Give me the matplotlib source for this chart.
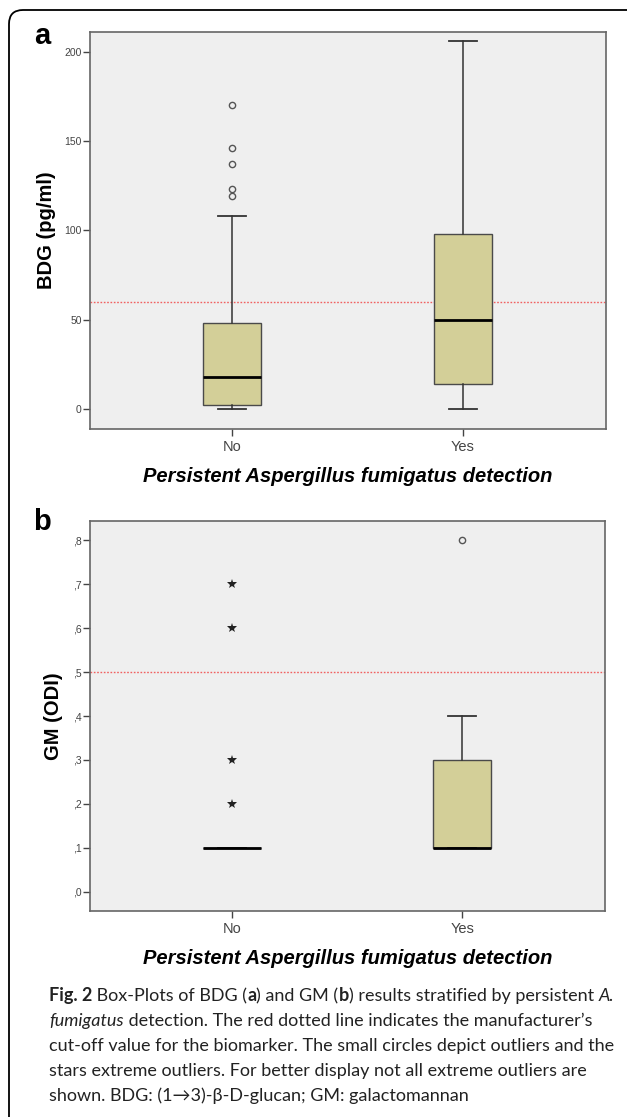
import numpy as np
import matplotlib
matplotlib.use("Agg")
import matplotlib.pyplot as plt
from matplotlib.patches import FancyBboxPatch
from matplotlib.ticker import FuncFormatter

# ------------------------------------------------------------
#  data
# ------------------------------------------------------------
categories = ["No", "Yes"]

# panel a: BDG (pg/ml)
bdg_whislo = [0, 0]
bdg_q1 = [2, 14]
bdg_med = [18, 50]
bdg_q3 = [48, 98]
bdg_whishi = [108, 206]
bdg_outliers = [[170, 146, 137, 123, 119], []]
bdg_cutoff = 60
bdg_ticks = [0, 50, 100, 150, 200]

# panel b: GM (ODI)
gm_whislo = [0.1, 0.1]
gm_q1 = [0.1, 0.1]
gm_med = [0.1, 0.1]
gm_q3 = [0.1, 0.3]
gm_whishi = [0.1, 0.4]
gm_outliers = [[], [0.8]]
gm_extremes = [[0.7, 0.6, 0.3, 0.2], []]
gm_cutoff = 0.5
gm_ticks = [0.0, 0.1, 0.2, 0.3, 0.4, 0.5, 0.6, 0.7, 0.8]

xlabel = "Persistent Aspergillus fumigatus detection"

caption_lines = [
    [("Fig. 2", "bold", "normal"), (" Box-Plots of BDG (", "normal", "normal"),
     ("a", "bold", "normal"), (") and GM (", "normal", "normal"),
     ("b", "bold", "normal"),
     (") results stratified by persistent ", "normal", "normal"),
     ("A.", "normal", "italic")],
    [("fumigatus", "normal", "italic"),
     (" detection. The red dotted line indicates the manufacturer\u2019s", "normal", "normal")],
    [("cut-off value for the biomarker. The small circles depict outliers and the", "normal", "normal")],
    [("stars extreme outliers. For better display not all extreme outliers are", "normal", "normal")],
    [("shown. BDG: (1\u21923)-\u03b2-D-glucan; GM: galactomannan", "normal", "normal")],
]

# ------------------------------------------------------------
#  style
# ------------------------------------------------------------
W, H = 627, 1117
BG = "#efefef"
BOX = "#d3cf98"
EDGE = "#4a4a4a"
plt.rcParams["font.family"] = ["Liberation Sans", "DejaVu Sans"]


def stats(lo, q1, med, q3, hi):
    return [dict(whislo=a, q1=b, med=c, q3=d, whishi=e, fliers=[])
            for a, b, c, d, e in zip(lo, q1, med, q3, hi)]


def draw_panel(ax, st, outliers, cutoff, ylim, ticks, fmt, ylabel, extremes=None):
    ax.set_facecolor(BG)
    pos = np.arange(1, len(categories) + 1)
    ax.bxp(st, positions=pos, widths=0.25, patch_artist=True, showfliers=False,
           boxprops=dict(facecolor=BOX, edgecolor=EDGE, linewidth=1.0),
           medianprops=dict(color="black", linewidth=2.0),
           whiskerprops=dict(color="#333333", linewidth=1.1),
           capprops=dict(color="#333333", linewidth=1.3),
           capwidths=0.12)
    for p, vals in zip(pos, outliers):
        if vals:
            ax.plot([p] * len(vals), vals, "o", ms=4.5, mfc="none",
                    mec="#555555", mew=1.0, zorder=5)
    if extremes:
        for p, vals in zip(pos, extremes):
            if vals:
                ax.plot([p] * len(vals), vals, "*", ms=7, color="#222222",
                        mew=0, zorder=5)
    ax.axhline(cutoff, color="#f06060", linestyle=(0, (1.2, 1.2)),
               linewidth=1.0, zorder=1)
    ax.set_xlim(0.385, 2.62)
    ax.set_ylim(*ylim)
    ax.set_xticks(pos)
    ax.set_xticklabels(categories, fontsize=10.5, color="#444444")
    ax.set_yticks(ticks)
    ax.yaxis.set_major_formatter(FuncFormatter(fmt))
    ax.tick_params(axis="y", labelsize=7.5, colors="#444444", length=5,
                   width=1.0, pad=1)
    ax.tick_params(axis="x", length=5, width=1.0, colors="#444444", pad=3)
    for s in ax.spines.values():
        s.set_color("#666666")
        s.set_linewidth(1.2)
    ax.set_ylabel(ylabel, fontsize=14.5, fontweight="bold")
    ax.set_xlabel(xlabel, fontsize=14.5, fontweight="bold", style="italic",
                  labelpad=9)


fig = plt.figure(figsize=(W / 100, H / 100), dpi=100)

# outer rounded frame
frame = FancyBboxPatch((0.09, -0.5), 6.4, 11.57,
                       boxstyle="round,pad=0,rounding_size=0.14",
                       transform=fig.dpi_scale_trans, fill=False,
                       edgecolor="black", linewidth=1.3, clip_on=False)
fig.patches.append(frame)


def ax_rect(x0, y0, x1, y1):
    return [x0 / W, 1 - y1 / H, (x1 - x0) / W, (y1 - y0) / H]


ax_a = fig.add_axes(ax_rect(90, 32, 606, 429))
draw_panel(ax_a, stats(bdg_whislo, bdg_q1, bdg_med, bdg_q3, bdg_whishi),
           bdg_outliers, bdg_cutoff, (-11.2, 211), bdg_ticks,
           lambda v, _: f"{int(v)}", "BDG (pg/ml)")
ax_a.yaxis.set_label_coords(-0.066, 0.5)

ax_b = fig.add_axes(ax_rect(90, 521, 605, 911))
draw_panel(ax_b, stats(gm_whislo, gm_q1, gm_med, gm_q3, gm_whishi),
           gm_outliers, gm_cutoff, (-0.044, 0.844), gm_ticks,
           lambda v, _: f",{int(round(v * 10))}", "GM (ODI)",
           extremes=gm_extremes)
ax_b.yaxis.set_label_coords(-0.052, 0.5)

# panel letters
fig.text(42 / W, 1 - 36 / H, "a", fontsize=21, fontweight="bold",
         ha="center", va="center")
fig.text(42 / W, 1 - 522 / H, "b", fontsize=21, fontweight="bold",
         ha="center", va="center")

# caption with mixed styles
fig.canvas.draw()
renderer = fig.canvas.get_renderer()
base_y = 1001
for i, runs in enumerate(caption_lines):
    x = 49
    y = 1 - (base_y + i * 25) / H
    for txt, wt, st in runs:
        t = fig.text(x / W, y, txt, fontsize=13, fontweight=wt, style=st,
                     family=["Lato", "DejaVu Sans"], va="baseline",
                     color="#222222")
        bb = t.get_window_extent(renderer)
        x = bb.x1

fig.savefig("out.png", dpi=100)
